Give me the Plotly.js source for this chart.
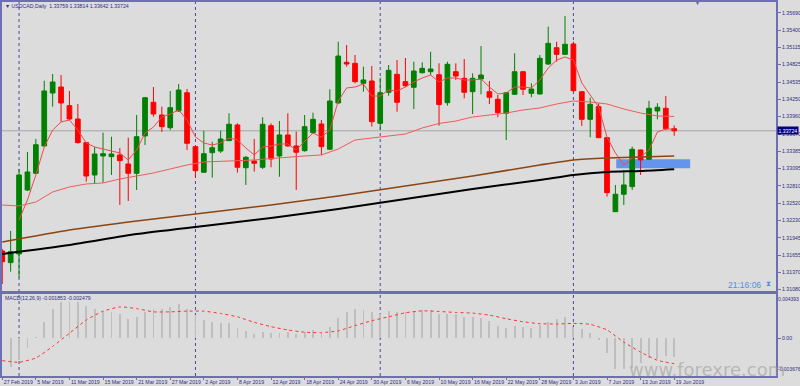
<!DOCTYPE html>
<html>
<head>
<meta charset="utf-8">
<script src="https://cdn.plot.ly/plotly-3.0.1.min.js"></script>
<style>html,body{margin:0;padding:0;background:#DCDCDC;}#chart{width:800px;height:386px;}</style>
</head>
<body>
<div id="chart"></div>
<script>
// ---- data ----
const dates = [
 "27 Feb 2019","28 Feb 2019",
 "1 Mar 2019","4 Mar 2019","5 Mar 2019","6 Mar 2019","7 Mar 2019","8 Mar 2019","11 Mar 2019","12 Mar 2019","13 Mar 2019","14 Mar 2019","15 Mar 2019",
 "18 Mar 2019","19 Mar 2019","20 Mar 2019","21 Mar 2019","22 Mar 2019","25 Mar 2019","26 Mar 2019","27 Mar 2019","28 Mar 2019","29 Mar 2019",
 "1 Apr 2019","2 Apr 2019","3 Apr 2019","4 Apr 2019","5 Apr 2019","8 Apr 2019","9 Apr 2019","10 Apr 2019","11 Apr 2019","12 Apr 2019",
 "15 Apr 2019","16 Apr 2019","17 Apr 2019","18 Apr 2019","19 Apr 2019","22 Apr 2019","23 Apr 2019","24 Apr 2019","25 Apr 2019","26 Apr 2019","29 Apr 2019","30 Apr 2019",
 "1 May 2019","2 May 2019","3 May 2019","6 May 2019","7 May 2019","8 May 2019","9 May 2019","10 May 2019","13 May 2019","14 May 2019","15 May 2019","16 May 2019","17 May 2019",
 "20 May 2019","21 May 2019","22 May 2019","23 May 2019","24 May 2019","27 May 2019","28 May 2019","29 May 2019","30 May 2019","31 May 2019",
 "3 Jun 2019","4 Jun 2019","5 Jun 2019","6 Jun 2019","7 Jun 2019","10 Jun 2019","11 Jun 2019","12 Jun 2019","13 Jun 2019","14 Jun 2019","17 Jun 2019","18 Jun 2019","19 Jun 2019"
];
const openP = [1.31724,1.31530,1.31674,1.32739,1.33017,1.33472,1.34353,1.34453,1.34142,1.33921,1.33527,1.32989,1.33305,1.33294,1.33322,1.33172,1.33017,1.33638,1.34199,1.33987,1.33776,1.34054,1.34358,1.33460,1.33034,1.33360,1.33388,1.33560,1.33821,1.33110,1.33222,1.33117,1.33809,1.33305,1.33655,1.33472,1.33393,1.33693,1.33838,1.33417,1.34187,1.34864,1.34847,1.34515,1.34553,1.33849,1.34365,1.34664,1.34542,1.34448,1.34691,1.34708,1.34658,1.34192,1.34708,1.34598,1.34375,1.34586,1.34375,1.34249,1.34016,1.34332,1.34708,1.34348,1.34337,1.34836,1.35107,1.34997,1.35169,1.34375,1.33915,1.34126,1.33610,1.32378,1.32668,1.32795,1.33405,1.33250,1.34054,1.34099,1.33759];
const highP = [1.31757,1.32057,1.33089,1.33372,1.33588,1.34558,1.34670,1.34653,1.34387,1.34170,1.33538,1.33455,1.33693,1.33626,1.33438,1.33610,1.33987,1.34287,1.34453,1.34126,1.34387,1.34503,1.34420,1.33472,1.33726,1.33543,1.33726,1.34016,1.33849,1.33305,1.33588,1.33949,1.33849,1.33888,1.34016,1.33710,1.33987,1.34026,1.33904,1.34415,1.35207,1.35152,1.34986,1.34791,1.34803,1.34608,1.34819,1.34903,1.34936,1.34874,1.34864,1.35041,1.34847,1.34874,1.34847,1.34918,1.34681,1.35136,1.34553,1.34320,1.34370,1.35014,1.34719,1.34515,1.34986,1.35457,1.35207,1.35635,1.35207,1.34387,1.34275,1.34182,1.33621,1.32823,1.33072,1.33460,1.33413,1.34225,1.34182,1.34304,1.33814];
const lowP = [1.31175,1.31380,1.31275,1.32723,1.33006,1.33455,1.34126,1.33876,1.33904,1.33513,1.32878,1.32839,1.32861,1.32989,1.32490,1.32556,1.32739,1.33488,1.33959,1.33705,1.33738,1.34037,1.33405,1.32945,1.33023,1.32945,1.33355,1.33555,1.33028,1.32823,1.33044,1.33089,1.33117,1.32960,1.33460,1.32739,1.33377,1.33682,1.33322,1.33405,1.34179,1.34791,1.34515,1.34375,1.33793,1.33738,1.34309,1.34042,1.34453,1.34087,1.34678,1.34653,1.33809,1.34142,1.34570,1.34265,1.34004,1.34332,1.34170,1.33949,1.33571,1.34320,1.34320,1.34282,1.34328,1.34819,1.34874,1.34986,1.34378,1.33805,1.33616,1.33604,1.32628,1.32373,1.32490,1.32739,1.32989,1.33239,1.33915,1.33738,1.33642];
const closeP = [1.31546,1.31713,1.32989,1.33039,1.33493,1.34387,1.34537,1.34187,1.33921,1.33527,1.32972,1.33338,1.33343,1.33338,1.33227,1.33017,1.33626,1.34275,1.34004,1.33793,1.34109,1.34403,1.33516,1.33061,1.33343,1.33443,1.33588,1.33833,1.33117,1.33283,1.33184,1.33833,1.33255,1.33655,1.33472,1.33367,1.33793,1.33915,1.33460,1.34220,1.34969,1.34836,1.34542,1.34570,1.33876,1.34358,1.34731,1.34199,1.34475,1.34719,1.34764,1.34753,1.34162,1.34831,1.34636,1.34365,1.34598,1.34653,1.34282,1.34026,1.34358,1.34708,1.34415,1.34420,1.34931,1.35180,1.34997,1.35164,1.34392,1.33915,1.34165,1.33610,1.32695,1.32668,1.32823,1.33417,1.33239,1.34099,1.34116,1.33760,1.33724];

// fast moving average (one value per bar, first two not drawn)
const fastMA = [null,null,1.32240,1.32573,1.32989,1.33455,1.33736,1.33871,1.33904,1.33736,1.33521,1.33455,1.33421,1.33388,1.33355,1.33238,1.33405,1.33688,1.33787,1.33954,1.34004,1.34071,1.33904,1.33621,1.33521,1.33488,1.33521,1.33605,1.33571,1.33438,1.33322,1.33455,1.33471,1.33505,1.33505,1.33405,1.33538,1.33688,1.33621,1.33736,1.34220,1.34437,1.34453,1.34503,1.34303,1.34303,1.34403,1.34387,1.34453,1.34536,1.34603,1.34653,1.34536,1.34603,1.34603,1.34570,1.34570,1.34586,1.34453,1.34337,1.34353,1.34453,1.34453,1.34437,1.34570,1.34769,1.34902,1.34952,1.34902,1.34520,1.34320,1.34120,1.33621,1.33355,1.33155,1.33272,1.33288,1.33405,1.33704,1.33754,1.33754];
// slow moving average, read every second bar
const slowMAIdx = [0,2,4,6,8,10,12,14,16,18,20,22,24,26,28,30,32,34,36,38,40,42,44,46,48,50,52,54,56,58,60,62,64,66,68,70,72,74,76,78,80];
const slowMA = [1.32489,1.32473,1.32539,1.32706,1.32789,1.32839,1.32856,1.32922,1.32972,1.33022,1.33089,1.33155,1.33205,1.33213,1.33222,1.33238,1.33263,1.33288,1.33305,1.33322,1.33421,1.33571,1.33605,1.33630,1.33671,1.33771,1.33846,1.33887,1.33954,1.33987,1.34020,1.34071,1.34104,1.34170,1.34220,1.34204,1.34170,1.34087,1.34020,1.33971,1.33962];
// long moving averages (brown and black)
const longMAIdx = [0,8,16,24,32,40,48,56,64,68,72,76,80];
const brownMA = [1.31874,1.32073,1.32223,1.32356,1.32489,1.32639,1.32806,1.32972,1.33155,1.33238,1.33272,1.33288,1.33305];
const blackMA = [1.31674,1.31824,1.32007,1.32140,1.32273,1.32423,1.32589,1.32755,1.32905,1.32989,1.33039,1.33055,1.33084];

// MACD histogram (main) and signal line
const macdMain = [null,-0.00282,-0.00208,-0.00099,0.00013,0.00154,0.00279,0.00353,0.00353,0.00353,0.00311,0.00288,0.00263,0.00256,0.00231,0.00186,0.00202,0.00256,0.00282,0.00282,0.00304,0.00337,0.00288,0.00224,0.00176,0.00154,0.00144,0.00151,0.00103,0.00074,0.00042,0.00064,0.00048,0.00054,0.00064,0.00038,0.00064,0.00080,0.00064,0.00112,0.00199,0.00256,0.00282,0.00272,0.00250,0.00240,0.00266,0.00256,0.00256,0.00263,0.00272,0.00272,0.00240,0.00240,0.00231,0.00208,0.00208,0.00199,0.00170,0.00122,0.00103,0.00122,0.00112,0.00103,0.00128,0.00160,0.00183,0.00208,0.00112,0.00090,0.00048,-0.00016,-0.00147,-0.00298,-0.00304,-0.00288,-0.00240,-0.00192,-0.00199,-0.00176,-0.001853];
const macdSignalIdx = slowMAIdx;
const macdSignal = [-0.00218,-0.00234,-0.00192,-0.00080,0.00048,0.00176,0.00263,0.00304,0.00288,0.00256,0.00256,0.00263,0.00263,0.00240,0.00208,0.00154,0.00112,0.00080,0.00058,0.00054,0.00071,0.00122,0.00170,0.00208,0.00247,0.00266,0.00260,0.00250,0.00244,0.00224,0.00189,0.00160,0.00141,0.00138,0.00144,0.00135,0.00080,-0.00038,-0.00135,-0.00215,-0.002479];

const priceTicks = [1.35690,1.35400,1.35115,1.34825,1.34535,1.34250,1.33960,1.33670,1.33385,1.33095,1.32810,1.32520,1.32230,1.31945,1.31655,1.31370,1.31080];
const lastPrice = 1.33724;
const monthStarts = ["1 Mar 2019","1 Apr 2019","1 May 2019","3 Jun 2019"];
const zoneIdx = [73.1, 81.9];
const zonePrice = [1.33101, 1.33250];
const headerText = "USDCAD,Daily  1.33759 1.33814 1.33642 1.33724";
const macdText = "MACD(12,26,9) -0.001853 -0.002479";
const macdRange = [-0.003676, 0.004393];

// ---- build ----
const idx = dates.map((d, i) => i);
const tickIdx = idx.filter(i => i % 4 === 0);
const tickLbl = tickIdx.map(i => dates[i]);

const frame = '#6E6EB4';
const txt = '#2E2E80';
const fnt = 'Liberation Sans, Arial, sans-serif';
const xr = [-0.03, 92.12];

// pixel helpers for decorative text placement (plot area 2..776 x 2..376)
const px = v => (v - 2) / 774;
const py = v => (376 - v) / 374;

const traces = [
  {type:'scatter', mode:'lines', x: idx, y: fastMA, line:{color:'#F04848', width:1}, xaxis:'x', yaxis:'y', connectgaps:false},
  {type:'scatter', mode:'lines', x: slowMAIdx, y: slowMA, line:{color:'#F05A5A', width:1}, xaxis:'x', yaxis:'y'},
  {type:'scatter', mode:'lines', x: longMAIdx, y: brownMA, line:{color:'#8B4513', width:1.6, shape:'spline', smoothing:0.6}, xaxis:'x', yaxis:'y'},
  {type:'scatter', mode:'lines', x: longMAIdx, y: blackMA, line:{color:'#000000', width:2, shape:'spline', smoothing:0.6}, xaxis:'x', yaxis:'y'},
  {type:'candlestick', x: idx, open: openP, high: highP, low: lowP, close: closeP,
   increasing:{line:{color:'#008000', width:1}, fillcolor:'#008000'},
   decreasing:{line:{color:'#FF0000', width:1}, fillcolor:'#FF0000'},
   whiskerwidth:0, xaxis:'x', yaxis:'y'},
  {type:'bar', x: idx, y: macdMain, marker:{color:'#BEBEBE', line:{width:0}}, width:0.22, xaxis:'x2', yaxis:'y2'},
  {type:'scatter', mode:'lines', x: macdSignalIdx, y: macdSignal, line:{color:'#FF3030', width:1, dash:'dot', shape:'spline', smoothing:0.5}, xaxis:'x2', yaxis:'y2'}
];

const shapes = [
  {type:'line', xref:'paper', x0:0, x1:1, yref:'y', y0:lastPrice, y1:lastPrice, line:{color:'#A4A4A4', width:1}, layer:'below'},
  {type:'rect', xref:'x', x0:zoneIdx[0], x1:zoneIdx[1], yref:'y', y0:zonePrice[0], y1:zonePrice[1], fillcolor:'#6495ED', line:{width:0}, layer:'below'}
];
monthStarts.forEach(d => {
  const i = dates.indexOf(d);
  shapes.push({type:'line', xref:'x', x0:i, x1:i, yref:'paper', y0:0, y1:1, line:{color:'#4848A8', width:1, dash:'dot'}, layer:'below'});
});

const annotations = [
  {xref:'paper', yref:'paper', x:px(3), y:py(5.8), xanchor:'left', yanchor:'middle', text:'▼ ' + headerText, showarrow:false, font:{family:fnt, size:5.2, color:txt}},
  {xref:'paper', yref:'paper', x:px(3), y:py(297.8), xanchor:'left', yanchor:'middle', text:macdText, showarrow:false, font:{family:fnt, size:5.2, color:txt}},
  {xref:'paper', yref:'paper', x:px(763), y:py(284.5), xanchor:'right', yanchor:'middle', text:'21:16:06', showarrow:false, font:{family:fnt, size:8.5, color:'#4F8FE6'}},
  {xref:'paper', yref:'paper', x:px(768), y:py(284), xanchor:'center', yanchor:'middle', text:'⧗', showarrow:false, font:{family:'DejaVu Sans', size:7, color:'#4F8FE6'}},
  {xref:'paper', yref:'y', x:1, y:lastPrice, xanchor:'left', yanchor:'middle', text:lastPrice.toFixed(5), showarrow:false, bgcolor:'#000080', borderpad:0.5, xshift:1, font:{family:fnt, size:5.2, color:'#FFFFFF'}},
  {xref:'paper', yref:'y2', x:1, y:macdRange[1], xanchor:'left', yanchor:'top', yshift:-1, xshift:0, text:macdRange[1].toFixed(6), showarrow:false, font:{family:fnt, size:5, color:txt}},
  {xref:'paper', yref:'y2', x:1, y:macdRange[0], xanchor:'left', yanchor:'bottom', yshift:2, xshift:0, text:macdRange[0].toFixed(6), showarrow:false, font:{family:fnt, size:5, color:txt}},
  {xref:'paper', yref:'paper', x:px(697), y:py(2.5), xanchor:'center', yanchor:'middle', text:'▼', showarrow:false, font:{family:fnt, size:5, color:'#55559A'}},
  {xref:'paper', yref:'paper', x:px(707), y:py(369), xanchor:'center', yanchor:'middle', text:'www.forexre.com', showarrow:false, font:{family:'DejaVu Sans', size:18, color:'rgba(150,150,150,0.55)'}}
];

const axisCommon = {showgrid:false, zeroline:false, showline:true, linecolor:frame, linewidth:2, mirror:true, fixedrange:true};

const layout = {
  width:800, height:386,
  margin:{l:2, r:24, t:2, b:10, pad:0},
  paper_bgcolor:'#DCDCDC', plot_bgcolor:'#DCDCDC',
  showlegend:false, hovermode:false,
  boxgap:0.2, boxgroupgap:0.3, bargap:0,
  xaxis: Object.assign({}, axisCommon, {domain:[0,1], anchor:'y', range:xr, showticklabels:false, ticks:'', rangeslider:{visible:false}}),
  yaxis: Object.assign({}, axisCommon, {domain:[0.2246,1], anchor:'x', side:'right', range:[1.31041,1.35868],
         tickvals:priceTicks, ticktext:priceTicks.map(v => v.toFixed(5)), ticks:'outside', ticklen:3, tickcolor:frame, tickwidth:1,
         tickfont:{family:fnt, size:5.2, color:txt}}),
  xaxis2: Object.assign({}, axisCommon, {domain:[0,1], anchor:'y2', range:xr, tickvals:tickIdx, ticktext:tickLbl,
         ticks:'outside', ticklen:2, tickcolor:frame, tickwidth:1, ticklabelposition:'outside right', tickangle:0, automargin:false,
         tickfont:{family:fnt, size:5.2, color:txt}, rangeslider:{visible:false}}),
  yaxis2: Object.assign({}, axisCommon, {domain:[0,0.2219], anchor:'x2', side:'right', range:macdRange,
         tickvals:[0], ticktext:['0.00'], ticks:'outside', ticklen:3, tickcolor:frame, tickwidth:1,
         tickfont:{family:fnt, size:5.2, color:txt}}),
  shapes: shapes,
  annotations: annotations
};

Plotly.newPlot('chart', traces, layout, {staticPlot:true, displayModeBar:false});
</script>
</body>
</html>
